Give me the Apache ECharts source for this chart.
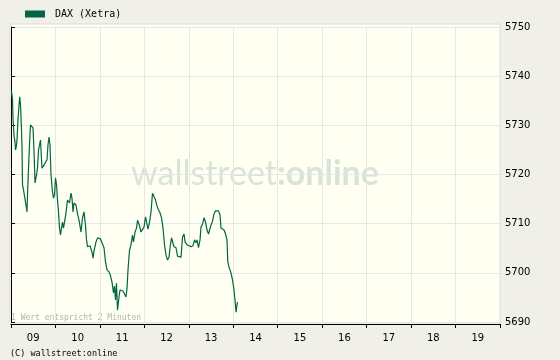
<!DOCTYPE html>
<html>
<head>
<meta charset="utf-8">
<script src="https://cdn.jsdelivr.net/npm/echarts@6/dist/echarts.min.js"></script>
<style>
html,body{margin:0;padding:0;background:#f0f0e8;}
#chart{width:560px;height:360px;}
</style>
</head>
<body>
<div id="chart"></div>
<script>
// Day labels (x axis categories)
const days = ['09','10','11','12','13','14','15','16','17','18','19'];
// Y axis range / ticks
const yMin = 5690, yMax = 5750, yStep = 10;
// Time in days since start of day "09"
const times = [0.011,0.034,0.045,0.067,0.090,0.101,0.119,0.135,0.157,0.180,0.196,0.209,0.218,0.232,0.247,0.259,0.281,0.304,0.326,0.337,0.360,0.371,0.394,0.416,0.439,0.461,0.495,0.517,0.540,0.551,0.574,0.596,0.619,0.641,0.664,0.675,0.697,0.720,0.742,0.776,0.810,0.832,0.855,0.877,0.900,0.934,0.956,0.979,1.001,1.024,1.046,1.069,1.091,1.114,1.136,1.159,1.181,1.204,1.237,1.271,1.294,1.316,1.350,1.372,1.395,1.417,1.462,1.496,1.530,1.575,1.609,1.642,1.676,1.699,1.721,1.777,1.822,1.845,1.867,1.912,1.946,1.980,2.013,2.047,2.092,2.126,2.160,2.205,2.238,2.272,2.306,2.328,2.351,2.373,2.396,2.430,2.452,2.486,2.520,2.553,2.587,2.610,2.632,2.666,2.700,2.733,2.756,2.790,2.823,2.846,2.880,2.925,2.958,2.992,3.026,3.060,3.082,3.116,3.150,3.183,3.217,3.251,3.285,3.318,3.352,3.386,3.420,3.453,3.487,3.521,3.555,3.577,3.611,3.633,3.667,3.712,3.746,3.780,3.825,3.858,3.892,3.915,3.960,4.004,4.049,4.094,4.128,4.162,4.184,4.218,4.252,4.274,4.308,4.342,4.376,4.409,4.443,4.477,4.499,4.533,4.567,4.601,4.634,4.668,4.702,4.724,4.758,4.792,4.826,4.859,4.877,4.904,4.949,4.983,5.017,5.039,5.062,5.084,5.096];
// DAX (Xetra) values
const dax = [5737.0,5735.2,5731.5,5728.0,5726.6,5725.0,5725.6,5727.0,5731.1,5734.1,5735.8,5734.7,5733.5,5730.1,5726.0,5717.9,5716.9,5715.6,5715.8,5713.8,5712.4,5715.8,5721.3,5726.0,5730.1,5729.9,5729.5,5725.0,5718.3,5717.9,5719.9,5721.3,5725.0,5726.0,5727.0,5725.0,5721.3,5721.3,5721.9,5722.3,5723.0,5726.0,5727.6,5726.0,5719.9,5716.4,5715.2,5715.8,5719.3,5717.9,5714.8,5712.4,5709.1,5707.7,5709.1,5710.3,5709.1,5710.3,5712.2,5714.8,5715.2,5714.2,5716.2,5715.2,5712.4,5714.2,5713.8,5712.0,5710.7,5708.3,5711.2,5712.4,5709.7,5706.7,5705.3,5705.5,5704.2,5703.0,5704.4,5706.3,5707.1,5707.3,5706.9,5706.7,5705.1,5702.2,5700.6,5700.2,5699.4,5698.1,5695.9,5697.3,5694.5,5697.9,5692.4,5695.1,5696.5,5696.9,5696.3,5696.7,5695.1,5696.9,5700.6,5704.6,5705.7,5707.7,5706.3,5708.3,5709.1,5710.7,5709.9,5708.3,5708.7,5709.3,5711.4,5711.2,5708.9,5710.3,5712.4,5716.2,5716.0,5714.8,5713.6,5712.8,5712.2,5711.2,5709.1,5705.7,5703.6,5702.6,5703.2,5705.1,5707.1,5706.7,5705.3,5705.1,5703.4,5703.0,5703.2,5707.3,5707.9,5706.3,5705.7,5705.7,5705.3,5705.5,5706.7,5706.1,5706.7,5705.1,5706.7,5709.3,5709.9,5711.2,5710.3,5708.7,5707.9,5708.1,5709.7,5710.5,5712.0,5712.6,5712.8,5712.6,5711.8,5709.1,5708.9,5708.7,5707.9,5706.7,5702.2,5701.2,5700.0,5698.5,5696.5,5694.5,5692.0,5693.5,5694.1];

const seriesData = times.map((t, i) => [t, dax[i]]);

const chart = echarts.init(document.getElementById('chart'), null, {renderer: 'canvas'});
const gridCol = '#e6e6ee';
chart.setOption({
  animation: false,
  backgroundColor: '#f0f0e8',
  legend: {
    left: 20, top: 4,
    icon: 'rect', itemWidth: 20, itemHeight: 7,
    textStyle: {fontFamily: 'DejaVu Sans Mono', fontSize: 10, color: '#000', padding: [0,0,0,5]},
    data: ['DAX (Xetra)']
  },
  graphic: [
    {type: 'rect', z: -10, silent: true, shape: {x: 10, y: 24, width: 490, height: 300},
     style: {fill: '#fffff2', stroke: '#dcdcd4', lineWidth: 1}},
    {type: 'text', z: -5, silent: true, left: 131, top: 157,
     style: {text: '{a|wallstreet}{b|:online}', rich: {
       a: {fontFamily: 'Lato', fontSize: 34, fill: '#d8e5d6'},
       b: {fontFamily: 'Lato', fontSize: 34, fontWeight: 'bold', fill: '#d8e5d6'}
     }}},
    {type: 'text', left: 11, top: 314, silent: true,
     style: {text: '1 Wert entspricht 2 Minuten', fontFamily: 'DejaVu Sans Mono', fontSize: 8, fill: '#b4b4b4'}},
    {type: 'text', left: 10, top: 349, silent: true,
     style: {text: '(C) wallstreet:online', fontFamily: 'DejaVu Sans Mono', fontSize: 8.5, fill: '#000'}}
  ],
  grid: {left: 11, right: 60, top: 27, bottom: 38, containLabel: false},
  xAxis: [
    {type: 'category', data: days, boundaryGap: true, offset: 2,
     axisLine: {show: true, lineStyle: {color: '#000', width: 1}},
     axisTick: {show: true, length: 4, interval: 0, lineStyle: {color: '#000'}},
     axisLabel: {margin: 9, fontFamily: 'DejaVu Sans', fontSize: 10, color: '#000', interval: 0},
     splitLine: {show: true, interval: 0, lineStyle: {color: gridCol, width: 1}}},
    {type: 'value', min: 0, max: days.length, show: false}
  ],
  yAxis: {
    type: 'value', position: 'right', min: yMin, max: yMax, interval: yStep,
    axisLine: {show: true, lineStyle: {color: '#000', width: 1}},
    axisTick: {show: true, length: 4, lineStyle: {color: '#000'}},
    axisLabel: {margin: 5, fontFamily: 'DejaVu Sans', fontSize: 10, color: '#000', formatter: v => String(v)},
    splitLine: {show: true, lineStyle: {color: gridCol, width: 1}}
  },
  series: [{
    name: 'DAX (Xetra)', type: 'line', xAxisIndex: 1,
    data: seriesData, symbol: 'none', color: '#006644',
    lineStyle: {width: 1.2, color: '#006644'}
  }]
});
</script>
</body>
</html>
